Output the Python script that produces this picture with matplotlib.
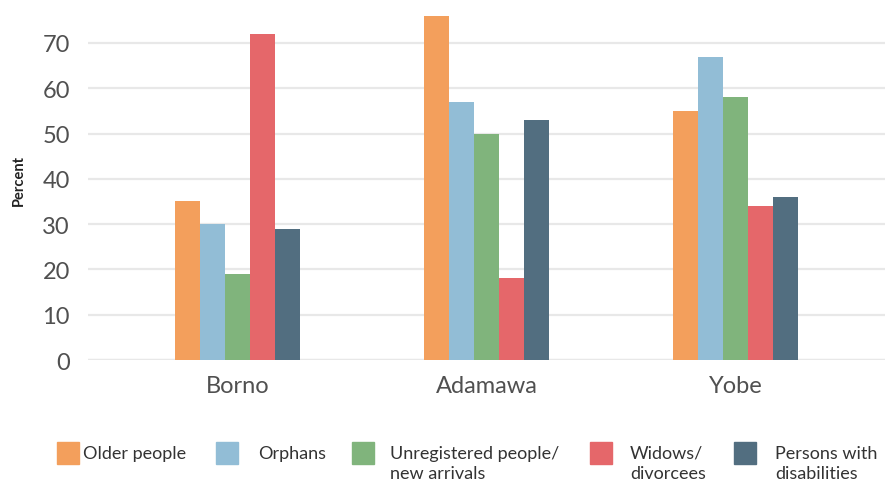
import matplotlib
matplotlib.use("Agg")
import matplotlib.pyplot as plt
import numpy as np
from matplotlib.patches import Rectangle

regions = ["Borno", "Adamawa", "Yobe"]
series = ["Older people", "Orphans", "Unregistered people/\nnew arrivals",
          "Widows/\ndivorcees", "Persons with\ndisabilities"]
older = [35, 76, 55]
orphans = [30, 57, 67]
unregistered = [19, 50, 58]
widows = [72, 18, 34]
disabled = [29, 53, 36]
yticks = [0, 10, 20, 30, 40, 50, 60, 70]

values = [older, orphans, unregistered, widows, disabled]
colors = ["#F39F5C", "#92BDD6", "#80B47C", "#E5676A", "#526E80"]

plt.rcParams['font.family'] = ['Lato', 'DejaVu Sans']

W, H = 886, 485
fig = plt.figure(figsize=(W / 100, H / 100), dpi=100)
ax = fig.add_axes([88 / W, 1 - 361 / H, (885 - 88) / W, 361 / H])

x = np.arange(len(regions))
bw = 0.1
for i, (vals, c) in enumerate(zip(values, colors)):
    ax.bar(x + (i - 2) * bw, vals, width=bw, color=c, zorder=3, linewidth=0)

ax.set_xlim(-0.6, 2.6)
ax.set_ylim(0, 79.7)
ax.set_yticks(yticks)
ax.set_yticklabels([str(t) for t in yticks], fontsize=17, color="#505050")
ax.set_xticks(x)
ax.set_xticklabels(regions, fontsize=17, color="#505050")
ax.tick_params(axis='both', length=0)
ax.tick_params(axis='y', pad=13)
ax.tick_params(axis='x', pad=11)
ax.grid(axis='y', color="#E8E8E8", linewidth=1.6, zorder=0)
ax.set_axisbelow(True)
for s in ax.spines.values():
    s.set_visible(False)
ax.axhline(0, color="#E8E8E8", linewidth=1.6, zorder=1)
ax.set_ylabel("Percent", fontsize=10.5, fontweight='bold', color="#222222", labelpad=12)

# legend, placed manually (pixel layout)
patch_x = [57, 216, 352, 590, 734]
text_x = [83, 258, 390, 630, 775]
py_top = 443
ps = 22
for px, tx, lab, c in zip(patch_x, text_x, series, colors):
    fig.patches.append(Rectangle((px / W, 1 - (py_top + ps) / H), ps / W, ps / H,
                                 transform=fig.transFigure, color=c, figure=fig))
    fig.text(tx / W, 1 - (py_top + 3) / H, lab, fontsize=13, color="#333333",
             va='top', ha='left', linespacing=1.3)

fig.savefig("out.png", dpi=100)
